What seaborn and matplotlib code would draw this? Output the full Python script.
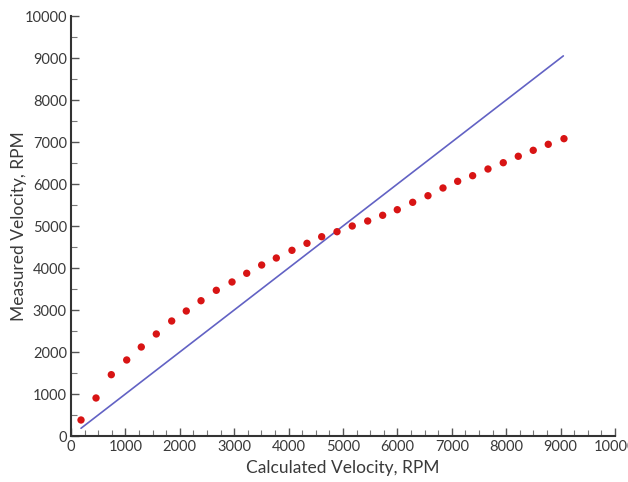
import matplotlib
matplotlib.use("Agg")
import matplotlib.pyplot as plt
import seaborn as sns
import pandas as pd
from matplotlib.ticker import MultipleLocator

calculated_rpm = [184, 460, 741, 1024, 1292, 1568, 1851, 2119, 2390, 2671, 2960,
                  3230, 3505, 3774, 4062, 4338, 4608, 4890, 5170, 5454, 5729, 5998,
                  6281, 6562, 6838, 7108, 7383, 7665, 7946, 8222, 8497, 8773, 9062]
measured_rpm = [381, 905, 1460, 1810, 2119, 2429, 2738, 2976, 3221, 3469, 3667,
                3874, 4071, 4238, 4421, 4588, 4745, 4864, 5000, 5119, 5255, 5388,
                5564, 5721, 5905, 6064, 6198, 6357, 6507, 6660, 6802, 6945, 7079]
ideal_x = [184, 9050]
ideal_y = [184, 9050]

x_label = "Calculated Velocity, RPM"
y_label = "Measured Velocity, RPM"

sns.set_theme(style="ticks")
plt.rcParams['font.family'] = ['Lato', 'DejaVu Sans']

df = pd.DataFrame({"calc": calculated_rpm, "meas": measured_rpm})
df_line = pd.DataFrame({"x": ideal_x, "y": ideal_y})

fig = plt.figure(figsize=(6.28, 4.82), dpi=100)
ax = fig.add_axes([71/628, 46/482, 544/628, 420/482])

sns.lineplot(data=df_line, x="x", y="y", ax=ax, color="#6262c4", linewidth=1.2)
sns.scatterplot(data=df, x="calc", y="meas", ax=ax, color="#d81414",
                s=28, edgecolor="none", zorder=3)

ax.set_xlim(0, 10000)
ax.set_ylim(0, 10000)
ax.xaxis.set_major_locator(MultipleLocator(1000))
ax.xaxis.set_minor_locator(MultipleLocator(250))
ax.yaxis.set_major_locator(MultipleLocator(1000))
ax.yaxis.set_minor_locator(MultipleLocator(500))

text_color = "#3a3a3a"
ax.tick_params(axis="both", which="major", direction="in", length=6, width=1,
               color="#555555", labelsize=10.5, labelcolor=text_color, pad=3)
ax.tick_params(axis="both", which="minor", direction="in", length=4, width=0.8,
               color="#777777")
for s in ["top", "right"]:
    ax.spines[s].set_visible(False)
for s in ["left", "bottom"]:
    ax.spines[s].set_color("#333333")
    ax.spines[s].set_linewidth(1.5)

ax.set_xlabel(x_label, fontsize=12.5, color=text_color, labelpad=4)
ax.set_ylabel(y_label, fontsize=12.5, color=text_color, labelpad=-2)

fig.savefig("out.png", dpi=100)
